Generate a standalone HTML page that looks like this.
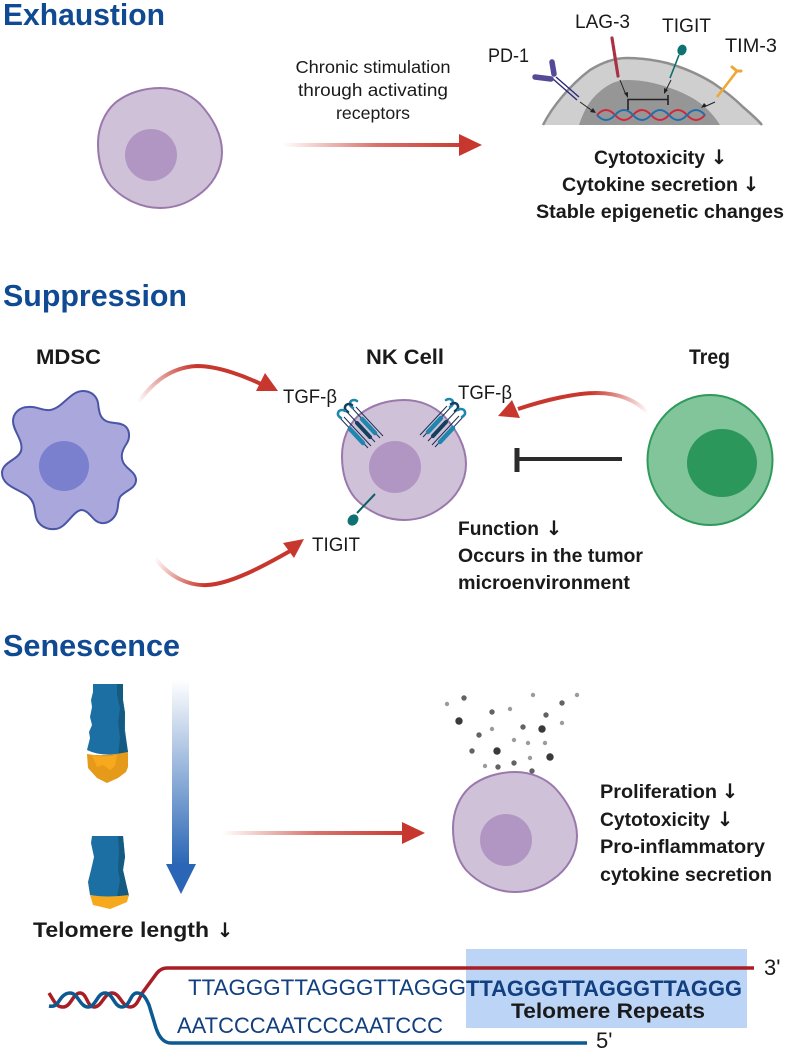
<!DOCTYPE html>
<html><head><meta charset="utf-8">
<style>
html,body{margin:0;padding:0;background:#fff}
svg{display:block}
text{font-family:"Liberation Sans",sans-serif;fill:#1a1a1a}
.h{font-weight:700;font-size:31px;fill:#0f4a92}
.b{font-weight:700;font-size:19.5px}
.a{font-family:"DejaVu Sans",sans-serif;font-weight:700;font-size:20px;text-anchor:middle}
.t{font-weight:700;font-size:21.5px}
.n{font-size:17.5px}
.l{font-size:19.5px}
.s{font-size:22px;fill:#123f7f}
</style></head><body>
<svg width="785" height="1050" viewBox="0 0 785 1050" xmlns="http://www.w3.org/2000/svg">
<defs>
<linearGradient id="r1" gradientUnits="userSpaceOnUse" x1="283" y1="0" x2="470" y2="0"><stop offset="0" stop-color="#c8372d" stop-opacity="0"/><stop offset=".5" stop-color="#c8372d" stop-opacity=".7"/><stop offset="1" stop-color="#c8372d"/></linearGradient>
<linearGradient id="r2" gradientUnits="userSpaceOnUse" x1="222" y1="0" x2="410" y2="0"><stop offset="0" stop-color="#c8372d" stop-opacity="0"/><stop offset=".5" stop-color="#c8372d" stop-opacity=".7"/><stop offset="1" stop-color="#c8372d"/></linearGradient>
<linearGradient id="r3" gradientUnits="userSpaceOnUse" x1="138" y1="403" x2="195" y2="367"><stop offset="0" stop-color="#c8372d" stop-opacity="0"/><stop offset="1" stop-color="#c8372d"/></linearGradient>
<linearGradient id="r4" gradientUnits="userSpaceOnUse" x1="155" y1="558" x2="205" y2="585"><stop offset="0" stop-color="#c8372d" stop-opacity="0"/><stop offset="1" stop-color="#c8372d"/></linearGradient>
<linearGradient id="r5" gradientUnits="userSpaceOnUse" x1="648" y1="413" x2="590" y2="393"><stop offset="0" stop-color="#c8372d" stop-opacity="0"/><stop offset="1" stop-color="#c8372d"/></linearGradient>
<linearGradient id="bl" x1="0" y1="0" x2="0" y2="1"><stop offset="0" stop-color="#2a66b5" stop-opacity="0"/><stop offset="1" stop-color="#2a66b5"/></linearGradient>
<path id="cell" d="M160 88C176 88 190 94 200 104C212 117 222 134 222 152C222 170 212 186 197 196C186 204 173 208 160 208C141 208 123 199 111 186C102 175 98 160 98 144C98 128 104 113 115 103C127 93 144 88 160 88Z" fill="#cfc1d7" stroke="#9a78ad" stroke-width="2"/>
<g id="rec">
<path d="M0 0L-28 -30M3 -2L-24 -31" stroke="#1a2f55" stroke-width="1" fill="none"/>
<path d="M-5 -5L-18 -19" stroke-width="4.5" stroke="#1f86ad" stroke-linecap="round"/>
<path d="M-27 -30q-5 -3 -2 -7q3 -2 6 0" stroke="#1f86ad" stroke-width="2.5" fill="none" stroke-linecap="round"/>
</g>
<g id="recd">
<path d="M0 0L-28 -30" stroke="#1a2f55" stroke-width="1" fill="none"/>
<path d="M-5 -5L-18 -19" stroke-width="4" stroke="#14405e" stroke-linecap="round"/>
<path d="M-27 -30q-5 -3 -2 -7q3 -2 6 0" stroke="#14405e" stroke-width="2.5" fill="none" stroke-linecap="round"/>
</g>
</defs>

<!-- Exhaustion -->
<text class="h" x="3" y="25" textLength="162" lengthAdjust="spacingAndGlyphs">Exhaustion</text>
<use href="#cell"/>
<circle cx="151" cy="155" r="26" fill="#b196c3"/>
<text class="n" text-anchor="middle" x="373" y="73" textLength="155" lengthAdjust="spacingAndGlyphs">Chronic stimulation</text>
<text class="n" text-anchor="middle" x="373" y="96" textLength="150" lengthAdjust="spacingAndGlyphs">through activating</text>
<text class="n" text-anchor="middle" x="373" y="119" textLength="74" lengthAdjust="spacingAndGlyphs">receptors</text>
<rect x="283" y="143" width="182" height="4" fill="url(#r1)"/>
<path d="M482 145L459 134V156Z" fill="#c8372d"/>

<!-- nucleus dome -->
<path d="M543 125C552 107 570 85 590 70C603 62 615 58 627 58C640 58 655 60 667 63C685 68 700 75 713 83C725 91 735 99 743 107C750 113 757 119 762 125Z" fill="#cfcfcf"/>
<path d="M543 125C552 107 570 85 590 70C603 62 615 58 627 58C640 58 655 60 667 63C685 68 700 75 713 83C725 91 735 99 743 107C750 113 757 119 762 125" fill="none" stroke="#8f8f8f" stroke-width="2.5"/>
<path d="M579 125C583 113 588 103 595 96C605 86 615 80 627 80C642 80 655 83 667 87C680 91 692 97 700 103C709 110 715 117 720 125Z" fill="#969696"/>
<path d="M597 115q9 -10 18 0t18 0t18 0t18 0t18 0t18 0" fill="none" stroke="#d3263a" stroke-width="2"/>
<path d="M597 115q9 10 18 0t18 0t18 0t18 0t18 0t18 0" fill="none" stroke="#1f6fb0" stroke-width="2"/>
<path d="M628 110V99.500H668M668 95V105" fill="none" stroke="#222" stroke-width="1.6"/>
<path d="M580 102L594 112M620 80L626 95M671 80L665 92M715 102L704 107" stroke="#222" stroke-width="1"/>
<path d="M596 113l-6 -1l3 -4ZM628 98l-4 -5l4 -1ZM664 94l0 -6l4 2ZM701 108l3 -5l3 3Z" fill="#222"/>
<text class="l" x="488" y="62" textLength="41" lengthAdjust="spacingAndGlyphs">PD-1</text>
<text class="l" x="575" y="28" textLength="55" lengthAdjust="spacingAndGlyphs">LAG-3</text>
<text class="l" x="662" y="32" textLength="49" lengthAdjust="spacingAndGlyphs">TIGIT</text>
<text class="l" x="725" y="52" textLength="52" lengthAdjust="spacingAndGlyphs">TIM-3</text>
<!-- PD-1 -->
<path d="M553 79L577 100M556 77L579 97" stroke="#2b2a7a" stroke-width="1.4"/>
<path d="M551 79L535 77M554 74L552 62" stroke="#544a96" stroke-width="5.5" stroke-linecap="round"/>
<!-- LAG-3 -->
<path d="M612 38L618 76" stroke="#a83243" stroke-width="3.2" stroke-dasharray="6 1.5" stroke-linecap="round"/>
<!-- TIGIT -->
<path d="M679 55L670 78" stroke="#0f6c6c" stroke-width="1.6"/>
<ellipse cx="682" cy="50" rx="4.5" ry="5.5" fill="#0e7272" transform="rotate(20 682 50)"/>
<!-- TIM-3 -->
<path d="M717 97L737 71" stroke="#eda734" stroke-width="2.6" fill="none"/>
<path d="M737 71L732 67M737 71L741 71" stroke="#eda734" stroke-width="3" stroke-linecap="round"/>
<text class="b" x="594" y="164" textLength="111" lengthAdjust="spacingAndGlyphs">Cytotoxicity</text>
<text class="a" x="719" y="164">↓</text>
<text class="b" x="562" y="191" textLength="176" lengthAdjust="spacingAndGlyphs">Cytokine secretion</text>
<text class="a" x="751" y="191">↓</text>
<text class="b" x="536" y="218" textLength="248" lengthAdjust="spacingAndGlyphs">Stable epigenetic changes</text>

<!-- Suppression -->
<text class="h" x="3" y="306" textLength="184" lengthAdjust="spacingAndGlyphs">Suppression</text>
<text class="t" x="36" y="364" textLength="65" lengthAdjust="spacingAndGlyphs">MDSC</text>
<text class="t" x="366" y="364" textLength="78" lengthAdjust="spacingAndGlyphs">NK Cell</text>
<text class="t" x="689" y="364" textLength="41" lengthAdjust="spacingAndGlyphs">Treg</text>
<!-- MDSC -->
<path d="M83 391C92 391 97 397 98 403C99 412 100 418 106 421C112 424 120 422 125 426C130 430 130 438 127 443C123 449 120 455 123 462C126 469 136 472 136 480C136 489 124 491 120 497C117 503 119 508 116 514C113 520 107 524 101 523C93 522 90 511 82 510C73 510 66 529 55 529C46 530 38 525 36 517C34 508 35 503 29 497C22 490 2 487 2 473C2 462 18 460 21 451C24 441 13 431 13 421C13 413 20 407 28 407C37 406 42 411 50 410C63 408 70 391 83 391Z" fill="#aaa7dd" stroke="#4a55a5" stroke-width="2"/>
<circle cx="64" cy="466" r="25" fill="#7a7fce"/>
<!-- curves -->
<path d="M138 403C155 378 175 367 197 366C218 366 245 376 265 386" fill="none" stroke="url(#r3)" stroke-width="4"/>
<path d="M278 391H256L265 373Z" fill="#c8372d"/>
<path d="M155 558C170 578 190 586 207 585C230 584 262 567 290 551" fill="none" stroke="url(#r4)" stroke-width="4"/>
<path d="M304 539L283 543L294 558Z" fill="#c8372d"/>
<path d="M648 413C636 400 618 393 597 393C575 393 545 400 518 409" fill="none" stroke="url(#r5)" stroke-width="4"/>
<path d="M498 416L520 418L512 400Z" fill="#c8372d"/>
<!-- NK -->
<use href="#cell" transform="translate(244 312)"/>
<circle cx="395" cy="467" r="26" fill="#b196c3"/>
<use href="#rec" transform="translate(380 438)"/>
<use href="#recd" transform="translate(375 442)"/>
<use href="#rec" transform="translate(368 448)"/>
<g transform="translate(803 -1) scale(-1 1)">
<use href="#rec" transform="translate(380 438)"/>
<use href="#recd" transform="translate(375 442)"/>
<use href="#rec" transform="translate(368 448)"/>
</g>
<path d="M375 494L357 513" stroke="#0f6060" stroke-width="2"/>
<ellipse cx="353" cy="520" rx="5" ry="6" fill="#0e7272" transform="rotate(40 353 520)"/>
<text class="l" x="283" y="403" textLength="54" lengthAdjust="spacingAndGlyphs">TGF-β</text>
<text class="l" x="458" y="399" textLength="54" lengthAdjust="spacingAndGlyphs">TGF-β</text>
<text class="l" x="312" y="551" textLength="48" lengthAdjust="spacingAndGlyphs">TIGIT</text>
<!-- Treg -->
<ellipse cx="710" cy="460" rx="62.500" ry="65" fill="#82c59b" stroke="#2e9a5b" stroke-width="2"/>
<ellipse cx="722" cy="463" rx="35" ry="34" fill="#2b975a"/>
<path d="M517 459H622" stroke="#2b2b2b" stroke-width="4"/>
<path d="M517 448V472" stroke="#2b2b2b" stroke-width="5"/>
<text class="b" x="458" y="535" textLength="81" lengthAdjust="spacingAndGlyphs">Function</text>
<text class="a" x="554" y="535">↓</text>
<text class="b" x="458" y="562" textLength="185" lengthAdjust="spacingAndGlyphs">Occurs in the tumor</text>
<text class="b" x="458" y="589" textLength="172" lengthAdjust="spacingAndGlyphs">microenvironment</text>

<!-- Senescence -->
<text class="h" x="3" y="656" textLength="177" lengthAdjust="spacingAndGlyphs">Senescence</text>
<!-- telomere long -->
<path d="M93 684L93 692L91 700L92 707L90 717L92 725L89 732L90 738L87 750Q103 758 128 752L125 730L125 713L123 700L123 684Z" fill="#1c6fa3"/>
<path d="M117 684H123L123 700L125 713L124 730L128 752L118 754L120 738L118 722L120 708L117 695Z" fill="#155a80"/>
<path d="M87 754Q103 757 128 752L128 767L126 772L118 778L107 783L97 778L88 768Z" fill="#e59a1a"/>
<path d="M92 755Q105 758 117 755L115 766L110 770L103 765L97 767Z" fill="#f7a91e"/>
<!-- telomere short -->
<path d="M92 836L91 843L94 857L91 870L88 882L90 895Q108 899 129 896L123 870L125 857L123 836Z" fill="#1c6fa3"/>
<path d="M118 836H123L125 857L123 870L129 896L117 897L120 880L118 870L119 850Z" fill="#155a80"/>
<path d="M90 895Q108 898 129 895L127 902L120 905L110 909L93 905Z" fill="#f7a91e"/>
<!-- blue arrow -->
<rect x="172" y="680" width="17" height="185" fill="url(#bl)"/>
<path d="M166 864H196L181 894Z" fill="#2a66b5"/>
<text class="t" x="33" y="937" textLength="176" lengthAdjust="spacingAndGlyphs">Telomere length</text>
<text class="a" x="225" y="937">↓</text>
<!-- red arrow -->
<rect x="222" y="831" width="188" height="4" fill="url(#r2)"/>
<path d="M425 833L402 822V844Z" fill="#c8372d"/>
<!-- dots -->
<g fill="#9b9b9b">
<circle cx="447" cy="704" r="2.2"/><circle cx="510" cy="709" r="2.2"/><circle cx="533" cy="695" r="2.2"/><circle cx="577" cy="695" r="2.2"/><circle cx="562" cy="723" r="2.2"/><circle cx="492" cy="729" r="2.2"/><circle cx="514" cy="740" r="2.2"/><circle cx="528" cy="743" r="2.2"/><circle cx="545" cy="743" r="2.2"/><circle cx="530" cy="758" r="2.2"/><circle cx="485" cy="766" r="2.2"/>
</g>
<g fill="#636363">
<circle cx="464" cy="698" r="2.7"/><circle cx="492" cy="712" r="2.7"/><circle cx="562" cy="703" r="2.7"/><circle cx="546" cy="715" r="2.7"/><circle cx="479" cy="735" r="2.7"/><circle cx="523" cy="727" r="2.7"/><circle cx="472" cy="751" r="2.7"/><circle cx="498" cy="767" r="2.7"/><circle cx="514" cy="763" r="2.7"/><circle cx="532" cy="771" r="2.7"/>
</g>
<g fill="#3a3a3a">
<circle cx="459" cy="721" r="3.7"/><circle cx="542" cy="729" r="3.7"/><circle cx="497" cy="751" r="3.7"/><circle cx="550" cy="757" r="3.7"/>
</g>
<!-- senescent cell -->
<use href="#cell" transform="translate(355 684)"/>
<circle cx="506" cy="840" r="26" fill="#b196c3"/>
<text class="b" x="600" y="798" textLength="117" lengthAdjust="spacingAndGlyphs">Proliferation</text>
<text class="a" x="730" y="798">↓</text>
<text class="b" x="600" y="826" textLength="110" lengthAdjust="spacingAndGlyphs">Cytotoxicity</text>
<text class="a" x="725" y="826">↓</text>
<text class="b" x="600" y="853" textLength="165" lengthAdjust="spacingAndGlyphs">Pro-inflammatory</text>
<text class="b" x="600" y="881" textLength="172" lengthAdjust="spacingAndGlyphs">cytokine secretion</text>

<!-- bottom -->
<rect x="466" y="949" width="281" height="79" fill="#bcd5f7"/>
<path d="M49 993C54 1001 56 1007 63 1007C71 1007 73 993 80 993C87 993 87 1007 94 1007C102 1007 104 993 112 993C120 993 122 1007 130 1007C137 1007 139 998 143 992L157 973Q161 968 167 968H754" fill="none" stroke="#a81e24" stroke-width="3.5"/>
<path d="M49 1006Q54 1007 57 1004C61 998 64 993 70 993C78 993 80 1007 88 1007C96 1007 97 993 105 993C113 993 114 1007 122 1007C130 1007 130 993 137 993C143 993 146 998 149 1005L156 1028Q161 1043 171 1043H587" fill="none" stroke="#0c5a92" stroke-width="3.5"/>
<text class="s" x="188" y="995" textLength="278" lengthAdjust="spacingAndGlyphs">TTAGGGTTAGGGTTAGGG</text>
<text class="s" x="466" y="996" textLength="276" lengthAdjust="spacingAndGlyphs" style="font-weight:700">TTAGGGTTAGGGTTAGGG</text>
<text class="s" x="177" y="1033" textLength="266" lengthAdjust="spacingAndGlyphs">AATCCCAATCCCAATCCC</text>
<text x="511" y="1018" textLength="194" lengthAdjust="spacingAndGlyphs" style="font-size:21.5px;font-weight:700">Telomere Repeats</text>
<text x="764" y="975" style="font-size:22px">3'</text>
<text x="596" y="1048" style="font-size:22px">5'</text>
</svg>
</body></html>
